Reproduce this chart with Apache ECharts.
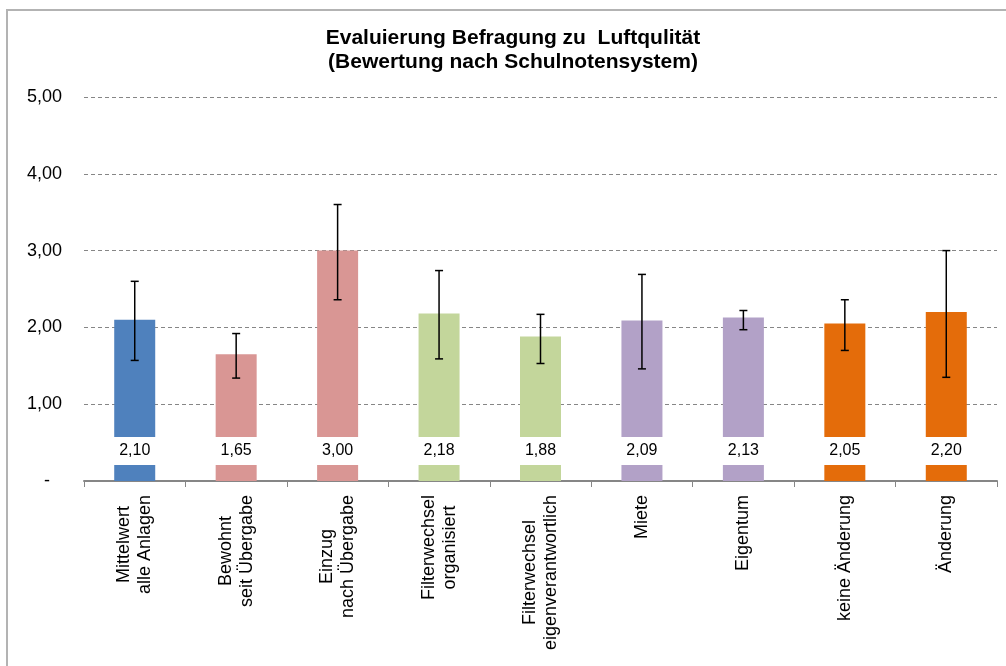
<!DOCTYPE html>
<html>
<head>
<meta charset="utf-8">
<script src="https://cdn.jsdelivr.net/npm/echarts@6/dist/echarts.min.js"></script>
<style>
  html, body { margin: 0; padding: 0; background: #fff; }
  #chart { width: 1006px; height: 666px; }
</style>
</head>
<body>
<div id="chart"></div>
<script>
var categories = [
  'Mittelwert\nalle Anlagen',
  'Bewohnt\nseit Übergabe',
  'Einzug\nnach Übergabe',
  'Filterwechsel\norganisiert',
  'Filterwechsel\neigenverantwortlich',
  'Miete',
  'Eigentum',
  'keine Änderung',
  'Änderung'
];
var values = [2.10, 1.65, 3.00, 2.18, 1.88, 2.09, 2.13, 2.05, 2.20];
var errLow = [1.57, 1.34, 2.36, 1.59, 1.53, 1.46, 1.97, 1.70, 1.35];
var errHigh = [2.60, 1.92, 3.60, 2.74, 2.17, 2.69, 2.22, 2.36, 3.00];
var barColors = ['#4F81BD', '#D99694', '#D99694', '#C3D69B', '#C3D69B', '#B2A1C7', '#B2A1C7', '#E46C0A', '#E46C0A'];

var chart = echarts.init(document.getElementById('chart'));

function fmt(v) {
  return v.toFixed(2).replace('.', ',');
}

var option = {
  animation: false,
  textStyle: { fontFamily: 'Liberation Sans, Arial, sans-serif' },
  graphic: [
    {
      type: 'rect',
      shape: { x: 7, y: 10, width: 1100, height: 800 },
      style: { fill: 'none', stroke: '#b3b3b3', lineWidth: 2 },
      silent: true
    },
    {
      type: 'text',
      x: 513,
      y: 26,
      style: {
        text: 'Evaluierung Befragung zu  Luftqulität\n(Bewertung nach Schulnotensystem)',
        align: 'center',
        fontSize: 21,
        fontWeight: 'bold',
        lineHeight: 24,
        fill: '#000',
        fontFamily: 'Liberation Sans, Arial, sans-serif'
      }
    }
  ],
  grid: { left: 84, right: 9, top: 97, bottom: 185 },
  xAxis: {
    type: 'category',
    data: categories,
    axisLine: { lineStyle: { color: '#868686', width: 2 } },
    axisTick: { show: true, length: 6, lineStyle: { color: '#868686' } },
    axisLabel: {
      interval: 0,
      rotate: 90,
      margin: 14,
      formatter: function (v) {
        return v.split('\n').map(function (s) { return '{a|' + s + '}'; }).join('\n');
      },
      rich: {
        a: { align: 'center', fontSize: 18, lineHeight: 21, color: '#000' }
      }
    }
  },
  yAxis: {
    type: 'value',
    min: 0,
    max: 5,
    interval: 1,
    axisLine: { show: false },
    axisTick: { show: false },
    splitLine: { lineStyle: { color: '#868686', type: [4, 3], width: 1 } },
    axisLabel: {
      margin: 22,
      fontSize: 18,
      color: '#000',
      formatter: function (v) {
        return v === 0 ? '{d|-}' : fmt(v);
      },
      rich: {
        d: { fontSize: 18, color: '#000', padding: [0, 12, 0, 0] }
      }
    }
  },
  series: [
    {
      type: 'bar',
      barWidth: 41,
      data: values.map(function (v, i) {
        return { value: v, itemStyle: { color: barColors[i] } };
      }),
      label: {
        show: true,
        position: 'insideBottom',
        distance: 16,
        formatter: function (p) { return fmt(p.value); },
        backgroundColor: '#fff',
        width: 47,
        align: 'center',
        padding: [6, 2],
        fontSize: 16,
        lineHeight: 16,
        color: '#000'
      }
    },
    {
      type: 'custom',
      z: 5,
      data: values.map(function (v, i) { return [i, errLow[i], errHigh[i]]; }),
      renderItem: function (params, api) {
        var x = api.value(0);
        var lo = api.coord([x, api.value(1)]);
        var hi = api.coord([x, api.value(2)]);
        var cap = 4;
        var style = { stroke: '#000', lineWidth: 1.5 };
        return {
          type: 'group',
          children: [
            { type: 'line', shape: { x1: lo[0], y1: lo[1], x2: hi[0], y2: hi[1] }, style: style },
            { type: 'line', shape: { x1: lo[0] - cap, y1: lo[1], x2: lo[0] + cap, y2: lo[1] }, style: style },
            { type: 'line', shape: { x1: hi[0] - cap, y1: hi[1], x2: hi[0] + cap, y2: hi[1] }, style: style }
          ]
        };
      }
    }
  ]
};

chart.setOption(option);
</script>
</body>
</html>
